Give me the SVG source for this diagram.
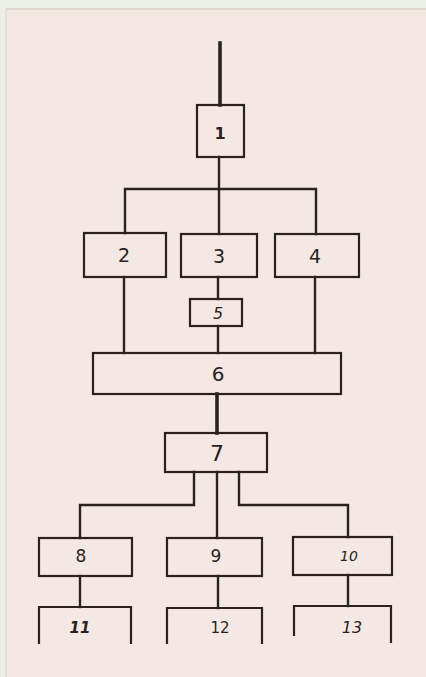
<svg xmlns="http://www.w3.org/2000/svg" width="426" height="677" viewBox="0 0 426 677">
<style>
.box{fill:none;stroke:#2b2220;stroke-width:2.2}
.ln{fill:none;stroke:#2b2220;stroke-width:2.4;stroke-linecap:square}
.thick{stroke-width:3.6}
.lbl{font-family:"DejaVu Sans","Liberation Sans",sans-serif;fill:#2b2220;text-anchor:middle;dominant-baseline:central}
</style>
<rect x="0" y="0" width="426" height="677" fill="#ecefe8"/>
<rect x="6" y="9" width="420" height="668" fill="#f3e8e4"/>
<line x1="6" y1="9" x2="426" y2="9" stroke="#d8d2c6" stroke-width="1.5"/>
<line x1="6" y1="9" x2="6" y2="677" stroke="#dcd6cc" stroke-width="1.2"/>
<g id="connectors">
<line class="ln thick" x1="220" y1="43" x2="220" y2="105"/>
<line class="ln" x1="219" y1="157" x2="219" y2="234"/>
<polyline class="ln" points="125,233 125,189 316,189 316,234"/>
<line class="ln" x1="124" y1="277" x2="124" y2="353"/>
<line class="ln" x1="218" y1="277" x2="218" y2="299"/>
<line class="ln" x1="218" y1="326" x2="218" y2="353"/>
<line class="ln" x1="315" y1="277" x2="315" y2="353"/>
<line class="ln thick" x1="217" y1="394" x2="217" y2="433"/>
<polyline class="ln" points="194,472 194,505 80,505 80,538"/>
<line class="ln" x1="217" y1="472" x2="217" y2="538"/>
<polyline class="ln" points="239,472 239,505 348,505 348,537"/>
<line class="ln" x1="80" y1="576" x2="80" y2="607"/>
<line class="ln" x1="218" y1="576" x2="218" y2="608"/>
<line class="ln" x1="348" y1="575" x2="348" y2="606"/>
</g>
<g id="n1"><rect class="box" x="197" y="105" width="47" height="52"/><text class="lbl" x="220" y="133" font-size="16" font-weight="bold">1</text></g>
<g id="n2"><rect class="box" x="84" y="233" width="82" height="44"/><text class="lbl" x="124" y="255" font-size="19">2</text></g>
<g id="n3"><rect class="box" x="181" y="234" width="76" height="43"/><text class="lbl" x="219" y="256" font-size="19">3</text></g>
<g id="n4"><rect class="box" x="275" y="234" width="84" height="43"/><text class="lbl" x="315" y="256" font-size="19">4</text></g>
<g id="n5"><rect class="box" x="190" y="299" width="52" height="27"/><text class="lbl" x="218" y="313" font-size="16" font-style="italic">5</text></g>
<g id="n6"><rect class="box" x="93" y="353" width="248" height="41"/><text class="lbl" x="218" y="374" font-size="20">6</text></g>
<g id="n7"><rect class="box" x="165" y="433" width="102" height="39"/><text class="lbl" x="217" y="453" font-size="22">7</text></g>
<g id="n8"><rect class="box" x="39" y="538" width="93" height="38"/><text class="lbl" x="81" y="556" font-size="17">8</text></g>
<g id="n9"><rect class="box" x="167" y="538" width="95" height="38"/><text class="lbl" x="216" y="556" font-size="17">9</text></g>
<g id="n10"><rect class="box" x="293" y="537" width="99" height="38"/><text class="lbl" x="349" y="556" font-size="14" font-style="italic">10</text></g>
<g id="n11"><polyline class="box" points="39,644 39,607 131,607 131,644"/><text class="lbl" x="80" y="628" font-size="15" font-weight="bold" font-style="italic">11</text></g>
<g id="n12"><polyline class="box" points="167,644 167,608 262,608 262,644"/><text class="lbl" x="220" y="628" font-size="15">12</text></g>
<g id="n13"><polyline class="box" points="294,636 294,606 391,606 391,643"/><text class="lbl" x="352" y="627" font-size="16" font-style="italic">13</text></g>
</svg>
